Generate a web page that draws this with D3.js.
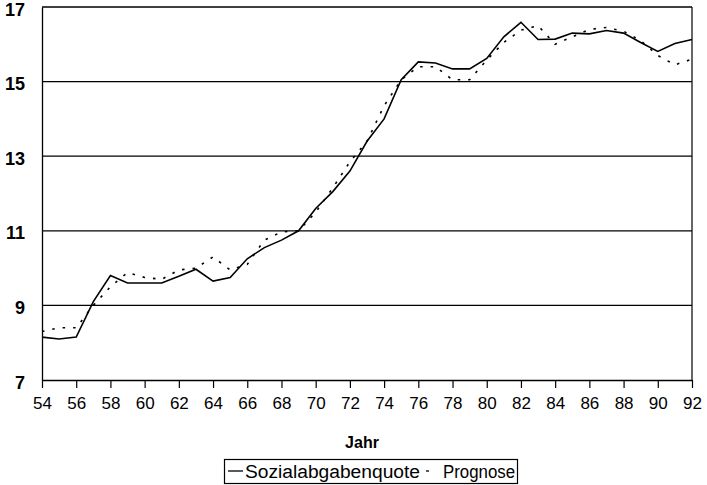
<!DOCTYPE html>
<html>
<head>
<meta charset="utf-8">
<script src="https://cdn.jsdelivr.net/npm/d3@7"></script>
<style>
  html, body { margin: 0; padding: 0; background: #fff; }
  svg { display: block; }
  text { font-family: "Liberation Sans", Arial, sans-serif; fill: #000; }
</style>
</head>
<body>
<svg id="chart" width="707" height="485"></svg>
<script>
const years = d3.range(54, 93);
const sozialabgabenquote = [
  8.15, 8.1, 8.15, 9.1, 9.8, 9.6, 9.6, 9.6, 9.78, 9.97,
  9.65, 9.75, 10.25, 10.55, 10.75, 11.0, 11.6, 12.05, 12.6, 13.4,
  14.0, 15.05, 15.53, 15.5, 15.34, 15.34, 15.62, 16.2, 16.59, 16.13,
  16.14, 16.3, 16.28, 16.37, 16.3, 16.05, 15.81, 16.02, 16.13
];
const prognose = [
  8.3, 8.4, 8.4, 9.0, 9.5, 9.88, 9.75, 9.7, 9.95, 10.0,
  10.3, 9.95, 10.1, 10.75, 10.97, 11.0, 11.5, 12.15, 12.85, 13.4,
  14.35, 15.05, 15.4, 15.4, 15.05, 15.05, 15.58, 16.05, 16.38, 16.5,
  16.0, 16.2, 16.4, 16.45, 16.35, 16.1, 15.7, 15.45, 15.6
];
const xTicks = d3.range(54, 93, 2);
const yTicks = [7, 9, 11, 13, 15, 17];
const xTitle = "Jahr";
const seriesNames = ["Sozialabgabenquote", "Prognose"];

const svg = d3.select("#chart");
const mLeft = 42, mRight = 692, mTop = 7, mBottom = 380;

const x = d3.scaleLinear().domain([54, 92]).range([mLeft, mRight]);
const y = d3.scaleLinear().domain([7, 17]).range([mBottom, mTop]);

// gridlines
svg.append("g").selectAll("line").data(yTicks.filter(d => d > 7)).join("line")
  .attr("x1", mLeft).attr("x2", mRight)
  .attr("y1", d => y(d)).attr("y2", d => y(d))
  .attr("stroke", "#000").attr("stroke-width", 1.3);

// right border
svg.append("line").attr("x1", mRight).attr("x2", mRight).attr("y1", mTop).attr("y2", mBottom)
  .attr("stroke", "#000").attr("stroke-width", 1.2);

// x axis
const xAxis = d3.axisBottom(x).tickValues(xTicks).tickSize(8).tickPadding(9).tickSizeOuter(0);
const gx = svg.append("g").attr("transform", `translate(0,${mBottom})`).call(xAxis);
gx.select(".domain").attr("stroke", "#000").attr("stroke-width", 1.3);
gx.selectAll(".tick line").attr("stroke", "#000").attr("stroke-width", 1.2);
gx.selectAll(".tick text").attr("font-size", 17).attr("font-family", "Liberation Sans, Arial, sans-serif").attr("fill", "#000");

// y axis
const yAxis = d3.axisLeft(y).tickValues(yTicks).tickSize(0).tickPadding(17).tickSizeOuter(0);
const gy = svg.append("g").attr("transform", `translate(${mLeft},0)`).call(yAxis);
gy.select(".domain").attr("stroke", "#000").attr("stroke-width", 1.3);
gy.selectAll(".tick text").attr("font-size", 18).attr("font-weight", "bold").attr("dy", "0.45em")
  .attr("font-family", "Liberation Sans, Arial, sans-serif").attr("fill", "#000");

// lines
const line = d3.line().x((d, i) => x(years[i])).y(d => y(d));
svg.append("path").datum(prognose).attr("d", line)
  .attr("fill", "none").attr("stroke", "#000").attr("stroke-width", 1.6)
  .attr("stroke-dasharray", "2.5,8");
svg.append("path").datum(sozialabgabenquote).attr("d", line)
  .attr("fill", "none").attr("stroke", "#000").attr("stroke-width", 1.6)
  .attr("stroke-linejoin", "miter");

// x title
svg.append("text").attr("x", 362).attr("y", 448).attr("text-anchor", "middle")
  .attr("font-size", 16).attr("font-weight", "bold").text(xTitle);

// legend
const lg = svg.append("g");
lg.append("rect").attr("x", 224.5).attr("y", 459.5).attr("width", 293).attr("height", 24)
  .attr("fill", "none").attr("stroke", "#000").attr("stroke-width", 1.2);
lg.append("line").attr("x1", 228).attr("x2", 243).attr("y1", 471).attr("y2", 471)
  .attr("stroke", "#000").attr("stroke-width", 1.3);
lg.append("text").attr("x", 245).attr("y", 478).attr("font-size", 18)
  .attr("textLength", 175).attr("lengthAdjust", "spacingAndGlyphs").text(seriesNames[0]);
lg.append("line").attr("x1", 426).attr("x2", 429).attr("y1", 471).attr("y2", 471)
  .attr("stroke", "#000").attr("stroke-width", 1.3);
lg.append("text").attr("x", 443).attr("y", 478).attr("font-size", 18)
  .attr("textLength", 72).attr("lengthAdjust", "spacingAndGlyphs").text(seriesNames[1]);
</script>
</body>
</html>
